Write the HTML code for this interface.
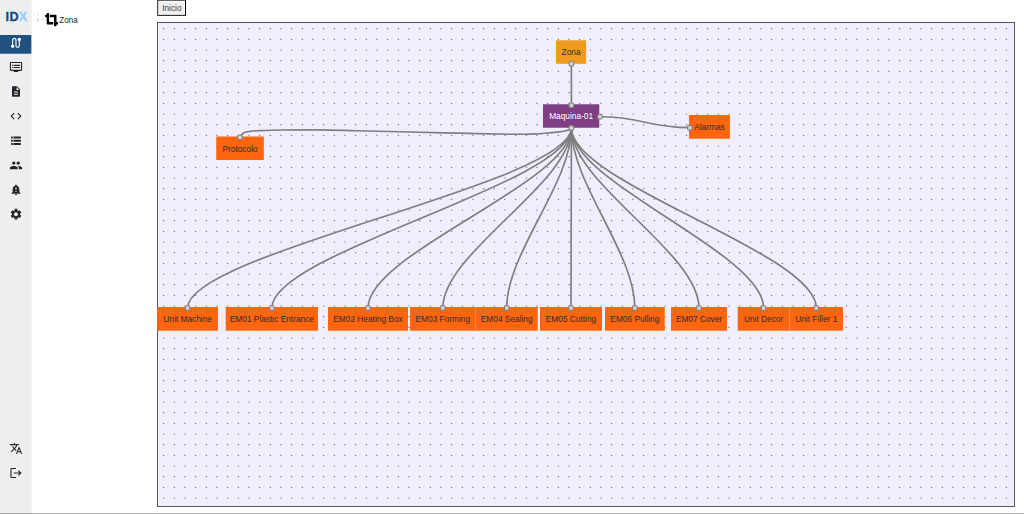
<!DOCTYPE html>
<html lang="es">
<head>
<meta charset="utf-8">
<title>IDX - Zona</title>
<style>
html,body{margin:0;padding:0;background:#fff;overflow:hidden;width:1024px;height:514px}
svg#app{position:absolute;left:0;top:0;display:block}
svg#app text{font-family:"Liberation Sans",sans-serif;white-space:pre}
.nt{font-size:12.5px;fill:#2e2e2e;text-anchor:middle}
.ed path{fill:none;stroke:#7e7e7e;stroke-width:2.5}
.hd rect{fill:#d3d3d3;stroke:#808080;stroke-width:1.6}
.dots path{fill:none;stroke:#505050;stroke-width:1.8;stroke-linecap:round;stroke-dasharray:0 16}
</style>
</head>
<body>
<svg id="app" width="1024" height="514" viewBox="0 0 1536 771">
<rect x="0" y="0" width="47.5" height="771" fill="#eeeeee"/>
<text x="8.3" y="32" font-size="19" font-weight="bold" fill="#174b7e" stroke="#174b7e" stroke-width="0.5">I<tspan dx="0.7">D</tspan><tspan fill="#8fd2fd" stroke="#8fd2fd">X</tspan></text>
<rect x="0" y="52.5" width="47" height="28.1" fill="#1f5281"/>
<path transform="translate(14.00 74.30) scale(0.8333 -0.8333)" fill="#fff" d="M19 15.18V7c0-2.21-1.79-4-4-4s-4 1.79-4 4v10c0 1.1-.9 2-2 2s-2-.9-2-2V8.82C8.16 8.4 9 7.3 9 6c0-1.66-1.34-3-3-3S3 4.34 3 6c0 1.3.84 2.4 2 2.82V17c0 2.21 1.79 4 4 4s4-1.79 4-4V7c0-1.1.9-2 2-2s2 .9 2 2v8.18c-1.16.41-2 1.51-2 2.82 0 1.66 1.34 3 3 3s3-1.34 3-3c0-1.3-.84-2.4-2-2.82z"/>
<path transform="translate(14.00 90.50) scale(0.8333)" fill="#212529" d="M21 3H3c-1.1 0-2 .9-2 2v12c0 1.1.9 2 2 2h5v2h8v-2h5c1.1 0 1.99-.9 1.99-2L23 5c0-1.1-.9-2-2-2zm0 14H3V5h18v12zm-2-9H8v2h11V8zm0 4H8v2h11v-2zM7 8H5v2h2V8zm0 4H5v2h2v-2z"/>
<path transform="translate(15.00 127.60) scale(0.7500 0.8042)" fill="#212529" d="M14 2H6c-1.1 0-1.99.9-1.99 2L4 20c0 1.1.89 2 1.99 2H18c1.1 0 2-.9 2-2V8l-6-6zm2 16H8v-2h8v2zm0-4H8v-2h8v2zm-3-5V3.5L18.5 9H13z"/>
<path transform="translate(14.00 164.30) scale(0.8333)" fill="#212529" d="M9.4 16.6L4.8 12l4.6-4.6L8 6l-6 6 6 6 1.4-1.4zm5.2 0l4.6-4.6-4.6-4.6L16 6l6 6-6 6-1.4-1.4z"/>
<path transform="translate(14.00 201.00) scale(0.8333)" fill="#212529" d="M4 4.4h2.2v3.6H4a1 1 0 0 1-1-1V5.4a1 1 0 0 1 1-1zM7.4 4.4H20a1 1 0 0 1 1 1V7a1 1 0 0 1-1 1H7.4zM4 10.2h2.2v3.6H4a1 1 0 0 1-1-1v-1.6a1 1 0 0 1 1-1zM7.4 10.2H20a1 1 0 0 1 1 1v1.6a1 1 0 0 1-1 1H7.4zM4 16h2.2v3.6H4a1 1 0 0 1-1-1V17a1 1 0 0 1 1-1zM7.4 16H20a1 1 0 0 1 1 1v1.6a1 1 0 0 1-1 1H7.4z"/>
<path transform="translate(14.00 238.00) scale(0.8333)" fill="#212529" d="M16 11c1.66 0 2.99-1.34 2.99-3S17.66 5 16 5c-1.66 0-3 1.34-3 3s1.34 3 3 3zm-8 0c1.66 0 2.99-1.34 2.99-3S9.660 5 8 5C6.34 5 5 6.34 5 8s1.34 3 3 3zm0 2c-2.33 0-7 1.17-7 3.5V19h14v-2.5c0-2.33-4.67-3.5-7-3.5zm8 0c-.29 0-.62.02-.97.05 1.16.84 1.97 1.97 1.97 3.45V19h6v-2.5c0-2.33-4.67-3.5-7-3.5z"/>
<path transform="translate(14.00 274.70) scale(0.8333)" fill="#212529" d="M18 16v-5c0-3.07-1.64-5.64-4.5-6.32V4c0-.83-.67-1.5-1.5-1.5s-1.5.67-1.5 1.5v.68C7.63 5.36 6 7.92 6 11v5l-2 2v1h16v-1l-2-2zm-5 0h-2v-2h2v2zm0-4h-2V8h2v4zm-1 10c1.1 0 2-.9 2-2h-4c0 1.100.89 2 2 2z"/>
<path transform="translate(14.00 311.30) scale(0.8333)" fill="#212529" d="M19.14 12.94c.04-.3.06-.61.06-.94 0-.32-.02-.64-.07-.94l2.03-1.58c.18-.14.23-.41.12-.61l-1.92-3.32c-.12-.22-.37-.29-.59-.22l-2.39.96c-.5-.38-1.03-.7-1.62-.94l-.36-2.54c-.04-.24-.24-.41-.48-.41h-3.84c-.24 0-.43.17-.47.41l-.36 2.54c-.59.24-1.13.57-1.62.94l-2.39-.96c-.22-.08-.47 0-.59.22L2.74 8.87c-.12.21-.08.47.12.61l2.03 1.58c-.05.3-.09.63-.09.94s.02.64.07.94l-2.03 1.58c-.18.14-.23.41-.12.61l1.92 3.32c.12.22.37.29.59.22l2.39-.96c.5.38 1.03.7 1.62.94l.36 2.54c.05.24.24.41.48.41h3.84c.24 0 .44-.17.47-.41l.36-2.54c.59-.24 1.13-.56 1.62-.94l2.39.96c.22.08.47 0 .59-.22l1.92-3.32c.12-.22.07-.47-.12-.61l-2.01-1.58zM12 15.6c-1.98 0-3.6-1.62-3.6-3.6s1.62-3.6 3.6-3.6 3.6 1.62 3.6 3.6-1.62 3.6-3.6 3.6z"/>
<path transform="translate(14.00 662.70) scale(0.8333)" fill="#212529" d="M12.87 15.07l-2.54-2.51.03-.03c1.74-1.94 2.98-4.17 3.71-6.53H17V4h-7V2H8v2H1v1.99h11.17C11.5 7.92 10.44 9.75 9 11.35 8.07 10.32 7.3 9.19 6.69 8h-2c.73 1.63 1.73 3.17 2.98 4.56l-5.09 5.02L4 19l5-5 3.11 3.11.76-2.04zM18.5 10h-2L12 22h2l1.12-3h4.75L21 22h2l-4.5-12zm-2.62 7l1.62-4.33L19.12 17h-3.24z"/>
<path transform="translate(14.00 699.50) scale(0.8333)" fill="#212529" d="M17 7l-1.41 1.41L18.17 11H8v2h10.17l-2.58 2.58L17 17l5-5zM4 5h8V3H4c-1.1 0-2 .9-2 2v14c0 1.1.9 2 2 2h8v-2H4V5z"/>
<path d="M57.5 19.6V24.6" stroke="#c8c8c8" stroke-width="1" fill="none"/>
<path d="M55.6 27.3L58 29.9L55.6 32.6" stroke="#9a9a9a" stroke-width="1" fill="none"/>
<rect x="60.6" y="28.8" width="6.4" height="1.4" fill="#e2e2e2"/>
<path transform="translate(67.6 19.6) scale(0.03828)" fill="#000" d="M488 352h-40V96c0-17.67-14.33-32-32-32H192v96h160v328c0 13.250 10.75 24 24 24h48c13.25 0 24-10.75 24-24v-40h40c13.25 0 24-10.75 24-24v-48c0-13.25-10.75-24-24-24zM160 24c0-13.26-10.75-24-24-24H88C74.75 0 64 10.74 64 24v40H24C10.75 64 0 74.74 0 88v48c0 13.25 10.75 24 24 24h40v256c0 17.67 14.33 32 32 32h224v-96H160V24z"/>
<text transform="translate(88.9 34.2) scale(1 1.1)" font-size="12.1" fill="#212529">Zona</text>
<rect x="236.00" y="-0.20" width="43.00" height="23.90" fill="#000"/>
<rect x="236.00" y="-0.20" width="41.50" height="22.40" fill="#484848"/>
<rect x="237.40" y="1.30" width="40.10" height="20.90" fill="#fff"/>
<rect x="238.90" y="2.80" width="37.10" height="17.90" fill="#efefef"/>
<text x="257.8" y="16.8" font-size="12.4" text-anchor="middle" fill="#3c3c3c">Inicio</text>
<rect x="236.25" y="33.75" width="1285.5" height="726" fill="#eeeeff" stroke="#55585d" stroke-width="1.5"/>
<g class="dots"><path d="M245.50 43.00H1521M245.50 59.00H1521M245.50 75.00H1521M245.50 91.00H1521M245.50 107.00H1521M245.50 123.00H1521M245.50 139.00H1521M245.50 155.00H1521M245.50 171.00H1521M245.50 187.00H1521M245.50 203.00H1521M245.50 219.00H1521M245.50 235.00H1521M245.50 251.00H1521M245.50 267.00H1521M245.50 283.00H1521M245.50 299.00H1521M245.50 315.00H1521M245.50 331.00H1521M245.50 347.00H1521M245.50 363.00H1521M245.50 379.00H1521M245.50 395.00H1521M245.50 411.00H1521M245.50 427.00H1521M245.50 443.00H1521M245.50 459.00H1521M245.50 475.00H1521M245.50 491.00H1521M245.50 507.00H1521M245.50 523.00H1521M245.50 539.00H1521M245.50 555.00H1521M245.50 571.00H1521M245.50 587.00H1521M245.50 603.00H1521M245.50 619.00H1521M245.50 635.00H1521M245.50 651.00H1521M245.50 667.00H1521M245.50 683.00H1521M245.50 699.00H1521M245.50 715.00H1521M245.50 731.00H1521M245.50 747.00H1521"/></g>
<g class="ed">
<path d="M857.1 95.7L857.1 157.8"/>
<path d="M900.0 175.1C962.0 175.1 972.8 191.5 1034.8 191.5"/>
<path d="M360.0 205.9C360.3 205.3 360.8 203.7 362.0 202.5C363.1 201.3 364.6 199.8 366.8 198.9C368.9 198.0 371.9 197.6 375.0 197.1C378.1 196.6 377.5 196.5 385.5 196.1C393.5 195.8 407.4 195.2 423.0 195.0C438.6 194.8 460.5 194.7 479.2 194.9C498.0 195.1 512.9 195.6 535.5 196.1C558.1 196.6 589.2 197.4 615.0 198.0C640.8 198.6 665.0 199.2 690.0 199.8C715.0 200.4 746.2 201.2 765.0 201.4C783.8 201.6 793.1 201.1 802.5 200.9C811.9 200.6 815.5 200.1 821.2 199.6C827.0 199.2 832.4 198.9 837.0 198.3C841.6 197.7 846.0 196.9 849.0 196.2C852.0 195.6 853.3 195.1 854.7 194.4C856.0 193.7 856.7 192.4 857.1 192.0"/>
<path d="M857.1 192.0C857.1 275.0 281.4 379.0 281.4 462.0"/>
<path d="M857.1 192.0C857.1 275.0 407.8 379.0 407.8 462.0"/>
<path d="M857.1 192.0C857.1 275.0 552.0 379.0 552.0 462.0"/>
<path d="M857.1 192.0C857.1 275.0 664.2 379.0 664.2 462.0"/>
<path d="M857.1 192.0C857.1 275.0 760.0 379.0 760.0 462.0"/>
<path d="M857.1 192.0C857.1 275.0 856.5 379.0 856.5 462.0"/>
<path d="M857.1 192.0C857.1 275.0 952.3 379.0 952.3 462.0"/>
<path d="M857.1 192.0C857.1 275.0 1048.5 379.0 1048.5 462.0"/>
<path d="M857.1 192.0C857.1 275.0 1145.4 379.0 1145.4 462.0"/>
<path d="M857.1 192.0C857.1 275.0 1224.4 379.0 1224.4 462.0"/>
</g>
<rect x="834.00" y="60.40" width="45.20" height="35.30" fill="#ee9b1f"/><text class="nt" transform="translate(856.60 83.15) scale(1 1.080)">Zona</text>
<rect x="814.50" y="156.40" width="84.40" height="35.20" fill="#813d84"/><text class="nt" transform="translate(856.70 179.10) scale(1 1.080)" style="fill:#fff">Maquina-01</text>
<rect x="1033.50" y="172.50" width="61.40" height="35.60" fill="#ff640e"/><text class="nt" transform="translate(1064.20 195.40) scale(1 1.080)">Alarmas</text>
<rect x="324.40" y="204.75" width="71.30" height="35.25" fill="#ff640e"/><text class="nt" transform="translate(360.05 227.47) scale(1 1.080)">Protocolo</text>
<rect x="235.90" y="460.50" width="91.10" height="35.60" fill="#ff640e"/><text class="nt" transform="translate(281.45 483.40) scale(1 1.080)">Unit Machine</text>
<rect x="338.60" y="460.50" width="138.40" height="35.60" fill="#ff640e"/><text class="nt" transform="translate(407.80 483.40) scale(1 1.080)">EM01 Plastic Entrance</text>
<rect x="492.00" y="460.50" width="120.00" height="35.60" fill="#ff640e"/><text class="nt" transform="translate(552.00 483.40) scale(1 1.080)">EM02 Heating Box</text>
<rect x="615.00" y="460.50" width="98.50" height="35.60" fill="#ff640e"/><text class="nt" transform="translate(664.25 483.40) scale(1 1.080)">EM03 Forming</text>
<rect x="713.50" y="460.50" width="93.10" height="35.60" fill="#ff640e"/><text class="nt" transform="translate(760.05 483.40) scale(1 1.080)">EM04 Sealing</text>
<rect x="810.00" y="460.50" width="93.00" height="35.60" fill="#ff640e"/><text class="nt" transform="translate(856.50 483.40) scale(1 1.080)">EM05 Cutting</text>
<rect x="907.50" y="460.50" width="89.60" height="35.60" fill="#ff640e"/><text class="nt" transform="translate(952.30 483.40) scale(1 1.080)">EM06 Pulling</text>
<rect x="1006.50" y="460.50" width="84.00" height="35.60" fill="#ff640e"/><text class="nt" transform="translate(1048.50 483.40) scale(1 1.080)">EM07 Cover</text>
<rect x="1106.60" y="460.50" width="77.65" height="35.60" fill="#ff640e"/><text class="nt" transform="translate(1145.42 483.40) scale(1 1.080)">Unit Decor</text>
<rect x="1184.25" y="460.50" width="80.25" height="35.60" fill="#ff640e"/><text class="nt" transform="translate(1224.38 483.40) scale(1 1.080)">Unit Filler 1</text>
<g class="hd">
<rect x="853.70" y="92.30" width="6.8" height="6.8" rx="1.7"/>
<rect x="853.70" y="154.40" width="6.8" height="6.8" rx="1.7"/>
<rect x="896.60" y="171.70" width="6.8" height="6.8" rx="1.7"/>
<rect x="853.70" y="188.60" width="6.8" height="6.8" rx="1.7"/>
<rect x="1031.40" y="188.10" width="6.8" height="6.8" rx="1.7"/>
<rect x="356.60" y="202.50" width="6.8" height="6.8" rx="1.7"/>
<rect x="278.05" y="458.60" width="6.8" height="6.8" rx="1.7"/>
<rect x="404.40" y="458.60" width="6.8" height="6.8" rx="1.7"/>
<rect x="548.60" y="458.60" width="6.8" height="6.8" rx="1.7"/>
<rect x="660.85" y="458.60" width="6.8" height="6.8" rx="1.7"/>
<rect x="756.65" y="458.60" width="6.8" height="6.8" rx="1.7"/>
<rect x="853.10" y="458.60" width="6.8" height="6.8" rx="1.7"/>
<rect x="948.90" y="458.60" width="6.8" height="6.8" rx="1.7"/>
<rect x="1045.10" y="458.60" width="6.8" height="6.8" rx="1.7"/>
<rect x="1142.02" y="458.60" width="6.8" height="6.8" rx="1.7"/>
<rect x="1220.97" y="458.60" width="6.8" height="6.8" rx="1.7"/>
</g>
<rect x="0" y="769.5" width="1536" height="1.5" fill="#000" fill-opacity="0.3"/>
</svg>
</body>
</html>
